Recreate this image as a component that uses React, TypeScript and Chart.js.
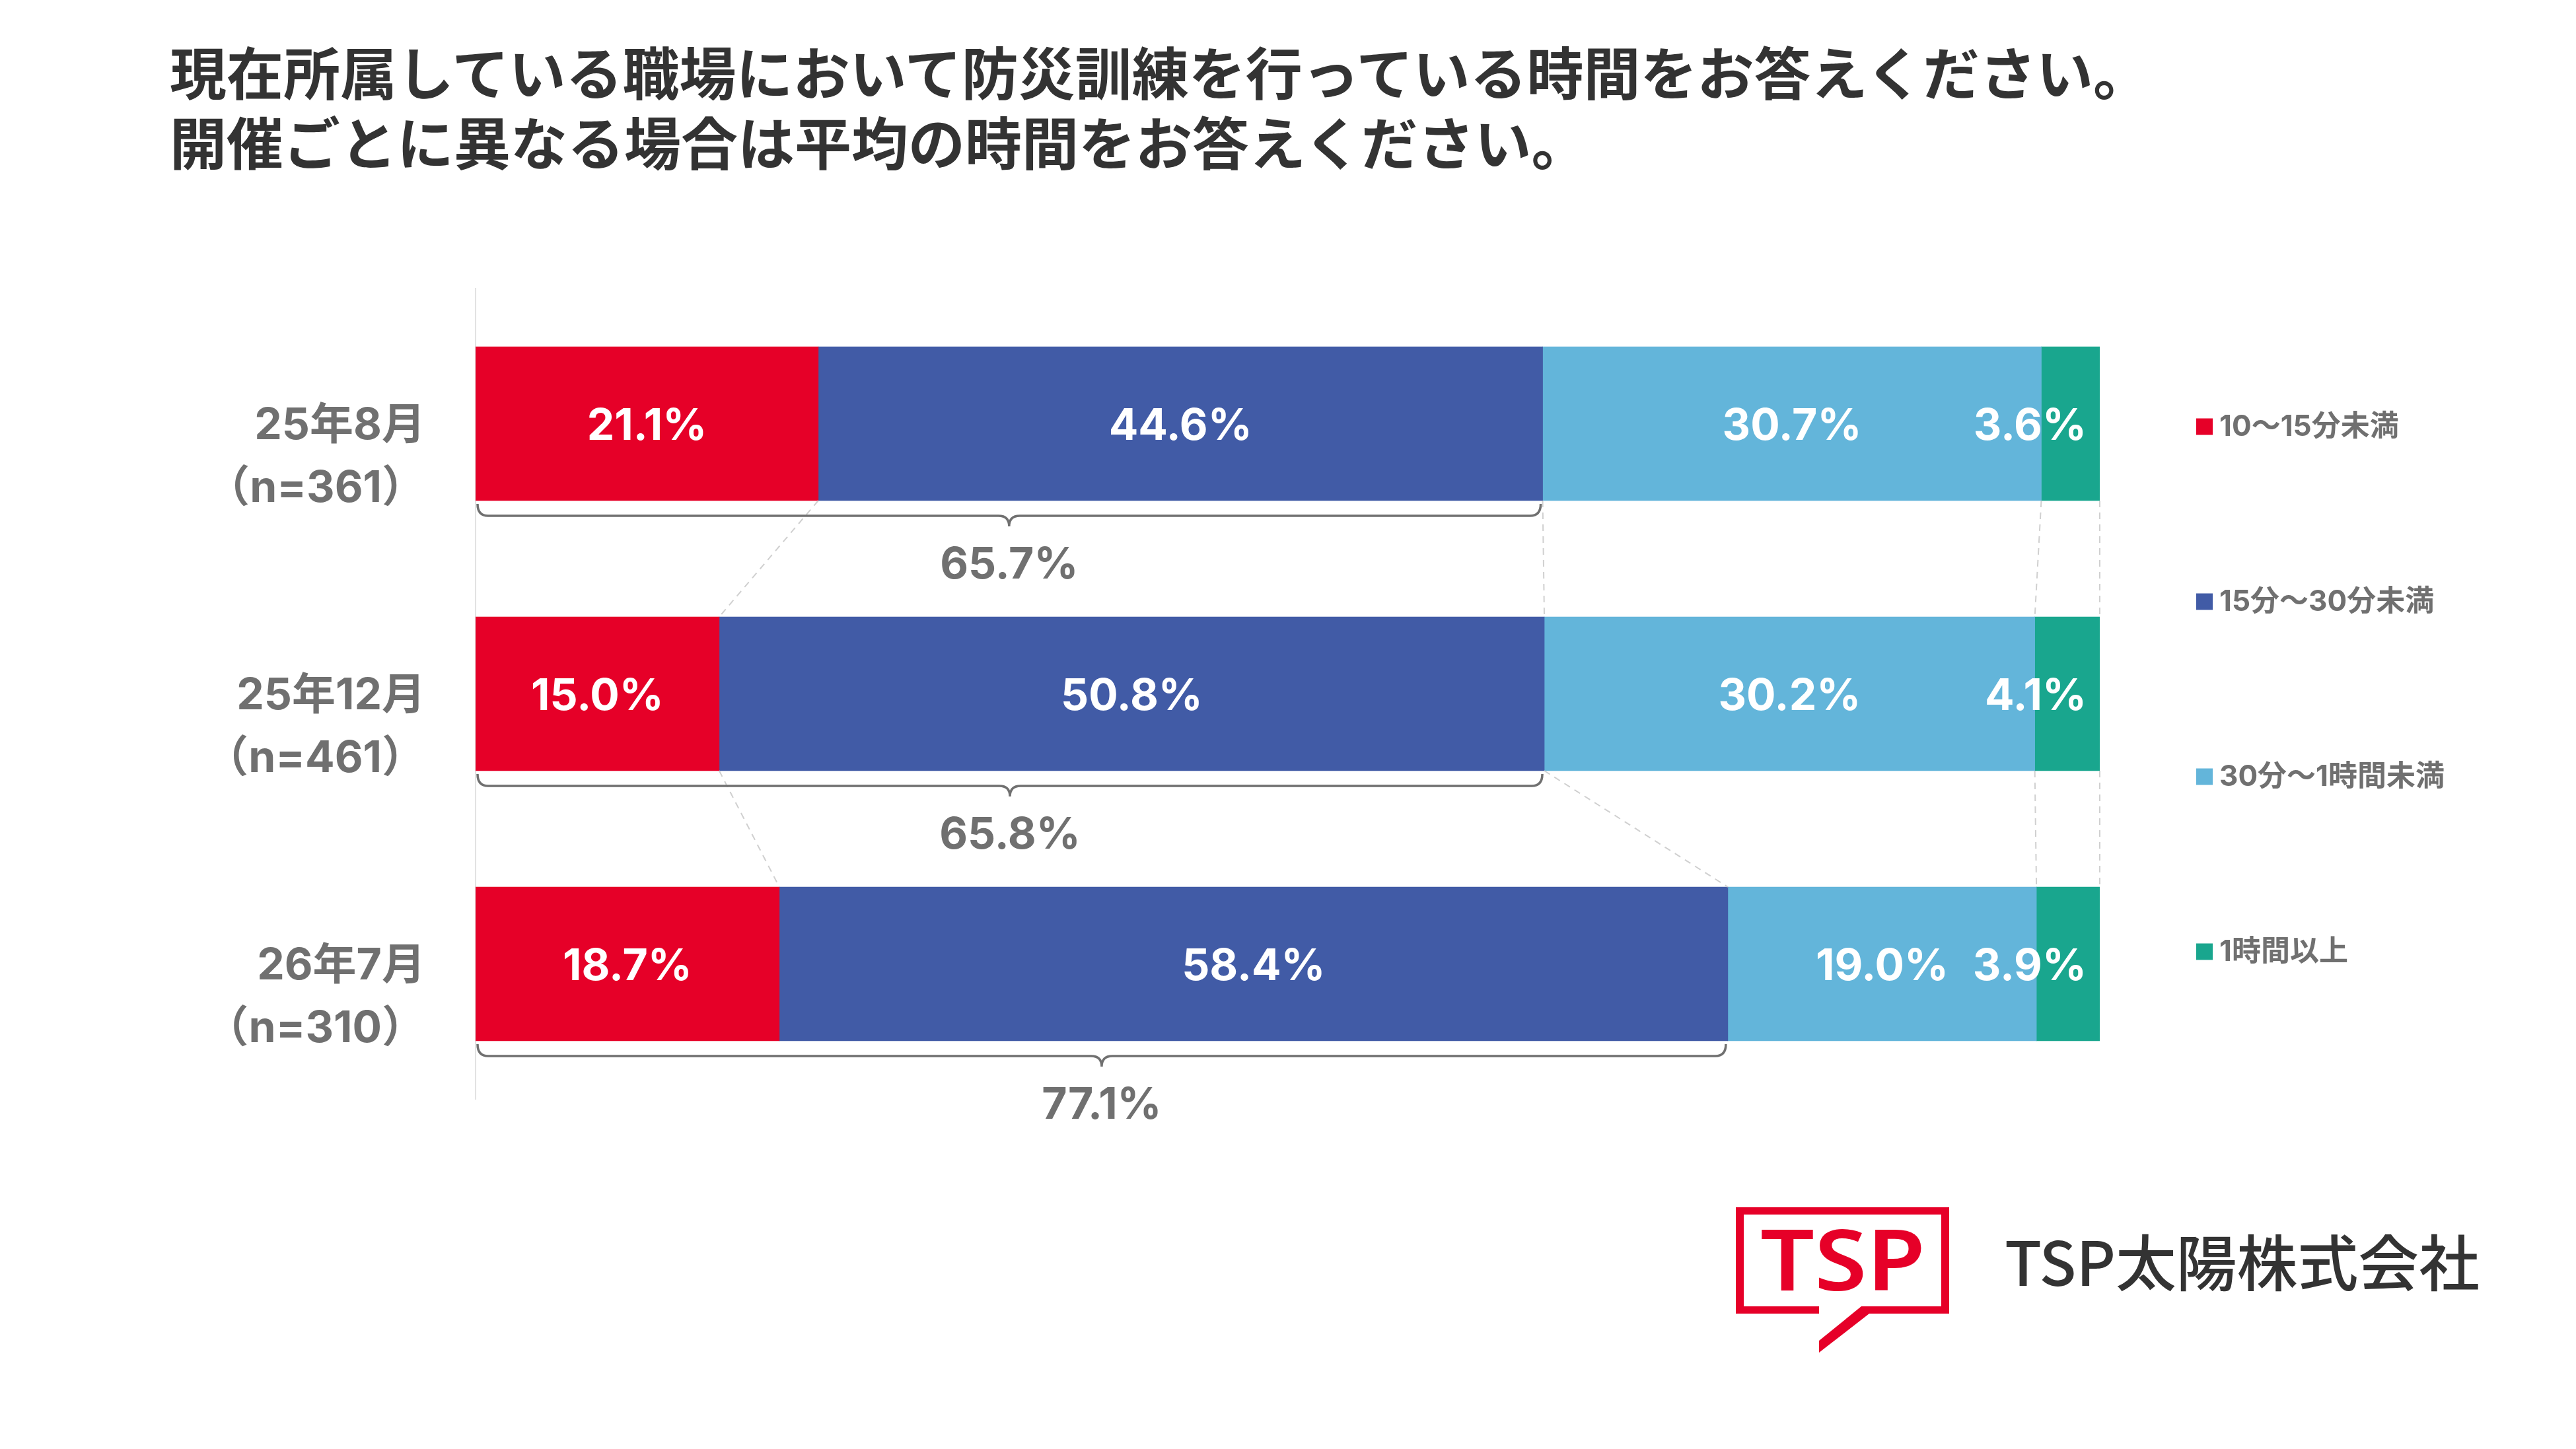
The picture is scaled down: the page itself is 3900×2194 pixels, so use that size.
import React, { useEffect, useRef } from 'react';
import { Chart, BarController, BarElement, LinearScale, CategoryScale } from 'chart.js';

Chart.register(BarController, BarElement, LinearScale, CategoryScale);

const TITLE_LINES = [
  '現在所属している職場において防災訓練を行っている時間をお答えください。',
  '開催ごとに異なる場合は平均の時間をお答えください。',
];
const CATEGORIES = [
  ['25年8月', '（n=361）'],
  ['25年12月', '（n=461）'],
  ['26年7月', '（n=310）'],
];
const SERIES_NAMES = ['10～15分未満', '15分～30分未満', '30分～1時間未満', '1時間以上'];
const SHARE_10_15 = [21.1, 15.0, 18.7];
const SHARE_15_30 = [44.6, 50.8, 58.4];
const SHARE_30_60 = [30.7, 30.2, 19.0];
const SHARE_60_UP = [3.6, 4.1, 3.9];
const WITHIN_30 = [65.7, 65.8, 77.1];
const COLORS = ['#E60028', '#415BA6', '#63B5DA', '#19A68E'];

const NUM_FONT = 'Inter, "Noto Sans CJK JP", sans-serif';
const GRAY = '#707070';

const overlay = {
  id: 'overlay',
  afterDatasetsDraw(chart: Chart) {
    const { ctx, chartArea } = chart;
    const metas = SERIES_NAMES.map((_, i) => chart.getDatasetMeta(i));
    const bar = (i: number, j: number) =>
      (metas[i].data[j] as any).getProps(['x', 'y', 'base', 'height'], true);

    // dashed connectors between neighbouring bars
    ctx.save();
    ctx.strokeStyle = '#d0d0d0';
    ctx.lineWidth = 2;
    ctx.setLineDash([10, 8]);
    for (let j = 0; j < CATEGORIES.length - 1; j++) {
      for (let i = 0; i < metas.length; i++) {
        const a = bar(i, j);
        const b = bar(i, j + 1);
        ctx.beginPath();
        ctx.moveTo(Math.min(a.x, chartArea.right), a.y + a.height / 2);
        ctx.lineTo(Math.min(b.x, chartArea.right), b.y - b.height / 2);
        ctx.stroke();
      }
    }
    ctx.restore();

    // values inside the bars
    ctx.save();
    ctx.fillStyle = '#ffffff';
    ctx.font = `bold 66px ${NUM_FONT}`;
    ctx.textBaseline = 'middle';
    chart.data.datasets.forEach((ds, i) => {
      (ds.data as number[]).forEach((v, j) => {
        const p = bar(i, j);
        const right = Math.min(p.x, chartArea.right);
        const text = `${v.toFixed(1)}%`;
        if (i === metas.length - 1) {
          ctx.textAlign = 'right';
          ctx.fillText(text, right - 20, p.y + 5);
        } else {
          ctx.textAlign = 'center';
          ctx.fillText(text, (p.base + right) / 2, p.y + 5);
        }
      });
    });
    ctx.restore();

    // braces for "under 30 min" totals
    ctx.save();
    ctx.strokeStyle = GRAY;
    ctx.lineWidth = 3.5;
    ctx.fillStyle = GRAY;
    ctx.font = `bold 66px ${NUM_FONT}`;
    ctx.textAlign = 'center';
    ctx.textBaseline = 'middle';
    WITHIN_30.forEach((v, j) => {
      const first = bar(0, j);
      const second = bar(1, j);
      const bottom = first.y + first.height / 2;
      const l = first.base + 3;
      const rt = second.x - 3;
      const m = (l + rt) / 2;
      const y0 = bottom + 5;
      const yh = bottom + 23;
      const yt = bottom + 39;
      const r = 16;
      ctx.beginPath();
      ctx.moveTo(l, y0);
      ctx.quadraticCurveTo(l, yh, l + r, yh);
      ctx.lineTo(m - r, yh);
      ctx.quadraticCurveTo(m, yh, m, yt);
      ctx.quadraticCurveTo(m, yh, m + r, yh);
      ctx.lineTo(rt - r, yh);
      ctx.quadraticCurveTo(rt, yh, rt, y0);
      ctx.stroke();
      ctx.fillText(`${v.toFixed(1)}%`, m, bottom + 98);
    });
    ctx.restore();
  },
  afterDraw(chart: Chart) {
    const { ctx } = chart;
    ctx.save();
    ctx.font = `bold 44px ${NUM_FONT}`;
    ctx.textBaseline = 'middle';
    ctx.textAlign = 'left';
    SERIES_NAMES.forEach((name, i) => {
      const cy = 646 + i * 265;
      ctx.fillStyle = COLORS[i];
      ctx.fillRect(3325, cy - 12.5, 25, 25);
      ctx.fillStyle = GRAY;
      ctx.fillText(name, 3360, cy + 1);
    });
    ctx.restore();
  },
};

export default function App() {
  const canvasRef = useRef<HTMLCanvasElement>(null);
  const chartRef = useRef<Chart | null>(null);

  useEffect(() => {
    const canvas = canvasRef.current;
    if (!canvas) return;

    chartRef.current = new Chart(canvas, {
      type: 'bar',
      data: {
        labels: CATEGORIES,
        datasets: [SHARE_10_15, SHARE_15_30, SHARE_30_60, SHARE_60_UP].map((data, i) => ({
          label: SERIES_NAMES[i],
          data,
          backgroundColor: COLORS[i],
          borderWidth: 0,
          barThickness: 233,
        })),
      },
      options: {
        indexAxis: 'y',
        animation: false,
        responsive: false,
        devicePixelRatio: 1,
        layout: { padding: { left: 0, top: 437, right: 721, bottom: 530 } },
        plugins: {
          legend: { display: false },
          tooltip: { enabled: false },
        },
        scales: {
          x: { stacked: true, min: 0, max: 100, display: false },
          y: {
            stacked: true,
            grid: { display: false, drawTicks: false },
            border: { display: true, color: '#e2e2e2', width: 2 },
            afterFit: (scale: any) => {
              scale.width = 720;
            },
            ticks: {
              padding: 76,
              labelOffset: 51,
              color: GRAY,
              font: { family: NUM_FONT, size: 66, weight: 'bold', lineHeight: 1.44 },
            },
          },
        },
      },
      plugins: [overlay],
    });

    return () => {
      chartRef.current?.destroy();
      chartRef.current = null;
    };
  }, []);

  return (
    <div style={{ position: 'absolute', left: 0, top: 0, width: 3900, height: 2194, background: '#fff', overflow: 'hidden' }}>
      <div
        style={{
          position: 'absolute',
          left: 257,
          top: 54,
          fontFamily: '"Noto Sans CJK JP", sans-serif',
          fontWeight: 700,
          fontSize: 86,
          lineHeight: '106px',
          color: '#333333',
          whiteSpace: 'nowrap',
        }}
      >
        {TITLE_LINES.map((t) => (
          <div key={t}>{t}</div>
        ))}
      </div>
      <canvas
        ref={canvasRef}
        width={3900}
        height={2194}
        style={{ position: 'absolute', left: 0, top: 0, width: 3900, height: 2194 }}
      />
      <svg
        width={3900}
        height={2194}
        style={{ position: 'absolute', left: 0, top: 0 }}
      >
        <g fill="#E60028">
          <rect x={2628} y={1828} width={323} height={11} />
          <rect x={2628} y={1828} width={12} height={161} />
          <rect x={2939} y={1828} width={12} height={161} />
          <rect x={2628} y={1978} width={126} height={11} />
          <rect x={2820} y={1978} width={131} height={11} />
          <polygon points="2818,1978 2754,2030 2754,2048 2830,1989 2830,1978" />
          <text
            x={2665}
            y={1954}
            fontFamily='"Noto Sans", sans-serif'
            fontWeight={600}
            fontSize={128}
            textLength={250}
            lengthAdjust="spacingAndGlyphs"
          >
            TSP
          </text>
        </g>
        <text
          x={3035}
          y={1947}
          fill="#333333"
          fontFamily='"Noto Sans CJK JP", sans-serif'
          fontWeight={500}
          fontSize={92}
          textLength={719}
          lengthAdjust="spacingAndGlyphs"
        >
          TSP太陽株式会社
        </text>
      </svg>
    </div>
  );
}
